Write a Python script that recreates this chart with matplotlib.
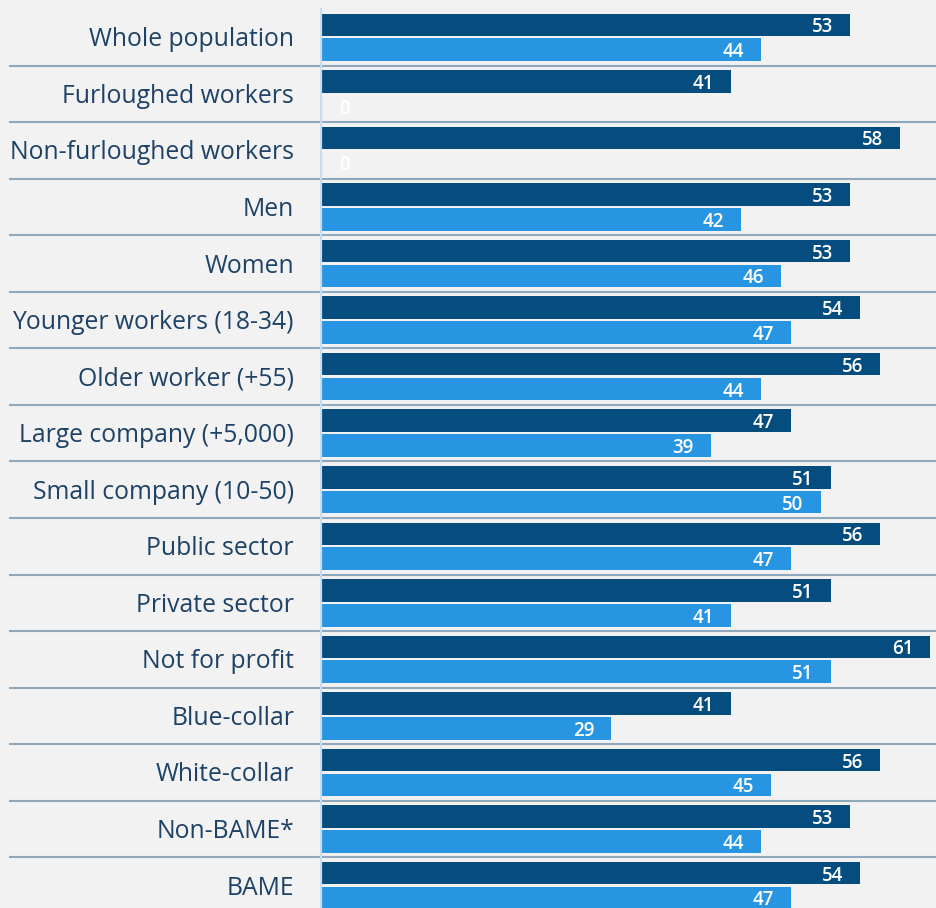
import matplotlib.pyplot as plt
import matplotlib.transforms as mtransforms
import numpy as np

categories = ['Whole population', 'Furloughed workers', 'Non-furloughed workers', 'Men', 'Women',
              'Younger workers (18-34)', 'Older worker (+55)', 'Large company (+5,000)',
              'Small company (10-50)', 'Public sector', 'Private sector', 'Not for profit',
              'Blue-collar', 'White-collar', 'Non-BAME*', 'BAME']
series_dark = [53, 41, 58, 53, 53, 54, 56, 47, 51, 56, 51, 61, 41, 56, 53, 54]
series_light = [44, 0, 0, 42, 46, 47, 44, 39, 50, 47, 41, 51, 29, 45, 44, 47]

BG = '#f2f2f2'
DARK = '#054d7f'
LIGHT = '#2895e3'
TEXT = '#1e4265'
SEP = '#8fa8bb'

plt.rcParams['font.family'] = ['Open Sans', 'DejaVu Sans']

fig = plt.figure(figsize=(9.36, 9.08), dpi=100, facecolor=BG)
ax = fig.add_axes([322 / 936, 0, 1 - 322 / 936, 1])
ax.set_facecolor(BG)

y = np.arange(len(categories))
h = 0.40
off = 0.22
ax.barh(y - off, series_dark, height=h, color=DARK, zorder=2)
ax.barh(y + off, series_light, height=h, color=LIGHT, zorder=2)

ax.set_xlim(0, 61.58)
ax.set_ylim(15.397, -0.66)
for s in ax.spines.values():
    s.set_visible(False)
ax.set_xticks([])
ax.set_yticks([])

# vertical axis line, just left of the bars
axis_t = mtransforms.offset_copy(ax.transData, fig=fig, x=-1.5, units='dots')
ax.plot([0, 0], [-0.5, 15.397], color='#c6ddf1', lw=1.6, zorder=3, clip_on=False,
        transform=axis_t)

# separators across whole width
trans = mtransforms.blended_transform_factory(fig.transFigure, ax.transData)
for i in range(len(categories) - 1):
    ax.plot([10 / 936, 1], [i + 0.5, i + 0.5], color=SEP, lw=1.5, transform=trans,
            clip_on=False, zorder=1)

# category labels
lbl_trans = mtransforms.offset_copy(ax.get_yaxis_transform(), fig=fig, x=-28, y=-2.5,
                                    units='dots')
for i, c in enumerate(categories):
    ax.text(0, i, c, transform=lbl_trans, ha='right', va='center', fontsize=17.8, color=TEXT)

# value labels
def put_values(vals, yy):
    for v, yv in zip(vals, yy):
        if v == 0:
            t = mtransforms.offset_copy(ax.transData, fig=fig, x=17, y=-2.5, units='dots')
            ha = 'left'
        else:
            t = mtransforms.offset_copy(ax.transData, fig=fig, x=-17, y=-2.5, units='dots')
            ha = 'right'
        ax.text(v, yv, str(v), transform=t, ha=ha, va='center', fontsize=13.5,
                color='white', fontweight='semibold', zorder=4)

put_values(series_dark, y - off)
put_values(series_light, y + off)

fig.savefig('out.png', dpi=100, facecolor=BG)
